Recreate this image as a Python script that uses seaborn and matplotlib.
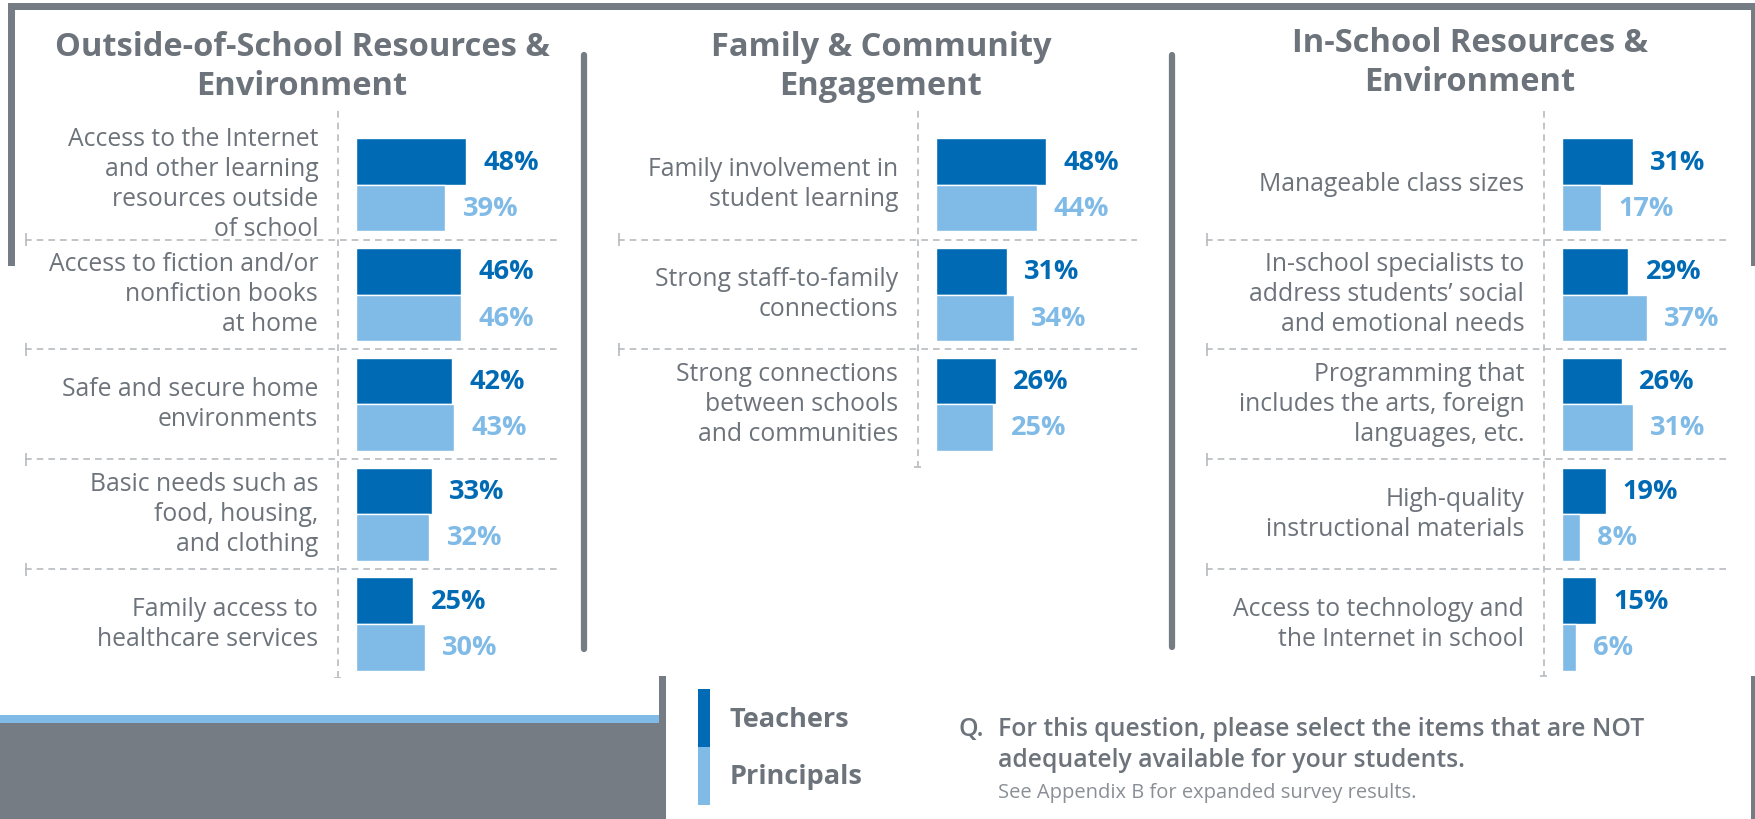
import matplotlib.pyplot as plt
import matplotlib.patches as mpatches
from matplotlib.lines import Line2D
import pandas as pd
import seaborn as sns

sns.set_theme(style='white')
plt.rcParams['font.family'] = ['Open Sans', 'DejaVu Sans']

# --- data ---
items_out = ["Access to the Internet\nand other learning\nresources outside\nof school",
             "Access to fiction and/or\nnonfiction books\nat home",
             "Safe and secure home\nenvironments",
             "Basic needs such as\nfood, housing,\nand clothing",
             "Family access to\nhealthcare services"]
teachers_out = [48, 46, 42, 33, 25]
principals_out = [39, 46, 43, 32, 30]

items_fam = ["Family involvement in\nstudent learning",
             "Strong staff-to-family\nconnections",
             "Strong connections\nbetween schools\nand communities"]
teachers_fam = [48, 31, 26]
principals_fam = [44, 34, 25]

items_in = ["Manageable class sizes",
            "In-school specialists to\naddress students\u2019 social\nand emotional needs",
            "Programming that\nincludes the arts, foreign\nlanguages, etc.",
            "High-quality\ninstructional materials",
            "Access to technology and\nthe Internet in school"]
teachers_in = [31, 29, 26, 19, 15]
principals_in = [17, 37, 31, 8, 6]

groups = ['Teachers', 'Principals']

DARK = '#006bb4'
LIGHT = '#80bae6'
GRAY = '#767c84'
TXT = '#6d737b'
DASH = '#b8bbbf'

W, H = 1755, 820
fig = plt.figure(figsize=(W / 100, H / 100), dpi=100)
fig.patch.set_facecolor('white')


def fx(x):
    return x / W


def fy(y):
    return 1 - y / H


SCALE = 2.29  # px per percent


def panel(left, right, bar_x, items, teach, princ, vline_bottom):
    top, bottom = 112, 679
    ax = fig.add_axes([fx(left), fy(bottom), (right - left) / W, (bottom - top) / H])
    n = len(items)
    df = pd.DataFrame({'item': items * 2,
                       'pct': teach + princ,
                       'group': [groups[0]] * n + [groups[1]] * n})
    sns.barplot(data=df, x='pct', y='item', hue='group', order=items,
                hue_order=groups, palette=[DARK, LIGHT], width=0.85,
                orient='h', saturation=1, legend=False, ax=ax, zorder=3)
    xl = (left - bar_x) / SCALE
    ax.set_xlim(xl, (right - bar_x) / SCALE)
    ax.set_ylim(4.49, -0.67)
    ax.axis('off')

    # dashed frame lines with small end ticks
    ax.vlines(-8, -0.67, vline_bottom, colors=DASH, linestyles=(0, (4, 3)), lw=1.2)
    ax.hlines(vline_bottom, -9.5, -6.5, colors=DASH, lw=1.2)
    for k in range(n - 1):
        ax.axhline(k + 0.5, color=DASH, ls=(0, (4, 3)), lw=1.2)
        ax.vlines(xl + 0.3, k + 0.44, k + 0.56, colors=DASH, lw=1.2)

    for i, name in enumerate(items):
        ax.text(-16.5, i - 0.01, name, ha='right', va='center', fontsize=17.8,
                color=TXT, linespacing=1.26)
        ax.text(teach[i] + 7.5, i - 0.21, f'{teach[i]}%', ha='left', va='center',
                fontsize=19.5, fontweight='bold', color=DARK)
        ax.text(princ[i] + 7.5, i + 0.21, f'{princ[i]}%', ha='left', va='center',
                fontsize=19.5, fontweight='bold', color=LIGHT)
    return ax


panel(25, 557, 356, items_out, teachers_out, principals_out, 4.49)
panel(618, 1137, 936, items_fam, teachers_fam, principals_fam, 2.57)
panel(1206, 1727, 1562, items_in, teachers_in, principals_in, 4.47)

# titles
title_kw = dict(ha='center', va='center', fontsize=23.5, fontweight='bold',
                color=TXT, linespacing=1.22)
fig.text(fx(302), fy(67), 'Outside-of-School Resources &\nEnvironment', **title_kw)
fig.text(fx(881), fy(67), 'Family & Community\nEngagement', **title_kw)
fig.text(fx(1470), fy(63), 'In-School Resources &\nEnvironment', **title_kw)


def line(x0, y0, x1, y1, color=GRAY, lw=5, cap='butt'):
    fig.add_artist(Line2D([fx(x0), fx(x1)], [fy(y0), fy(y1)], color=color,
                          lw=lw, solid_capstyle=cap))


def rect(x0, y0, x1, y1, color):
    fig.add_artist(mpatches.Rectangle((fx(x0), fy(y1)), (x1 - x0) / W, (y1 - y0) / H,
                                      facecolor=color, edgecolor='none'))


# outer frame pieces
rect(8, 4, W, 11, GRAY)
rect(8, 4, 15, 267, GRAY)
rect(1751, 4, W, 267, GRAY)
rect(1751, 677, W, H, GRAY)

# column dividers
line(584, 56, 584, 650, lw=4.5, cap='round')
line(1172, 56, 1172, 648, lw=4.5, cap='round')

# bottom-left block
rect(0, 716, 659, 724, LIGHT)
rect(0, 724, 666, H, GRAY)
rect(659, 677, 666, H, GRAY)

# legend
rect(698, 690, 710, 748, DARK)
rect(698, 748, 710, 806, LIGHT)
fig.text(fx(730), fy(720), 'Teachers', ha='left', va='center', fontsize=19.5,
         fontweight='bold', color=TXT)
fig.text(fx(730), fy(777), 'Principals', ha='left', va='center', fontsize=19.5,
         fontweight='bold', color=TXT)

# question note
fig.text(fx(959), fy(730), 'Q.', ha='left', va='center', fontsize=17.8,
         fontweight='semibold', color=TXT)
fig.text(fx(998), fy(730), 'For this question, please select the items that are NOT',
         ha='left', va='center', fontsize=17.8, fontweight='semibold', color=TXT)
fig.text(fx(998), fy(761), 'adequately available for your students.',
         ha='left', va='center', fontsize=17.8, fontweight='semibold', color=TXT)
fig.text(fx(998), fy(793), 'See Appendix B for expanded survey results.',
         ha='left', va='center', fontsize=14.5, color='#8a8f96')

fig.savefig('out.png', dpi=100, facecolor='white')
